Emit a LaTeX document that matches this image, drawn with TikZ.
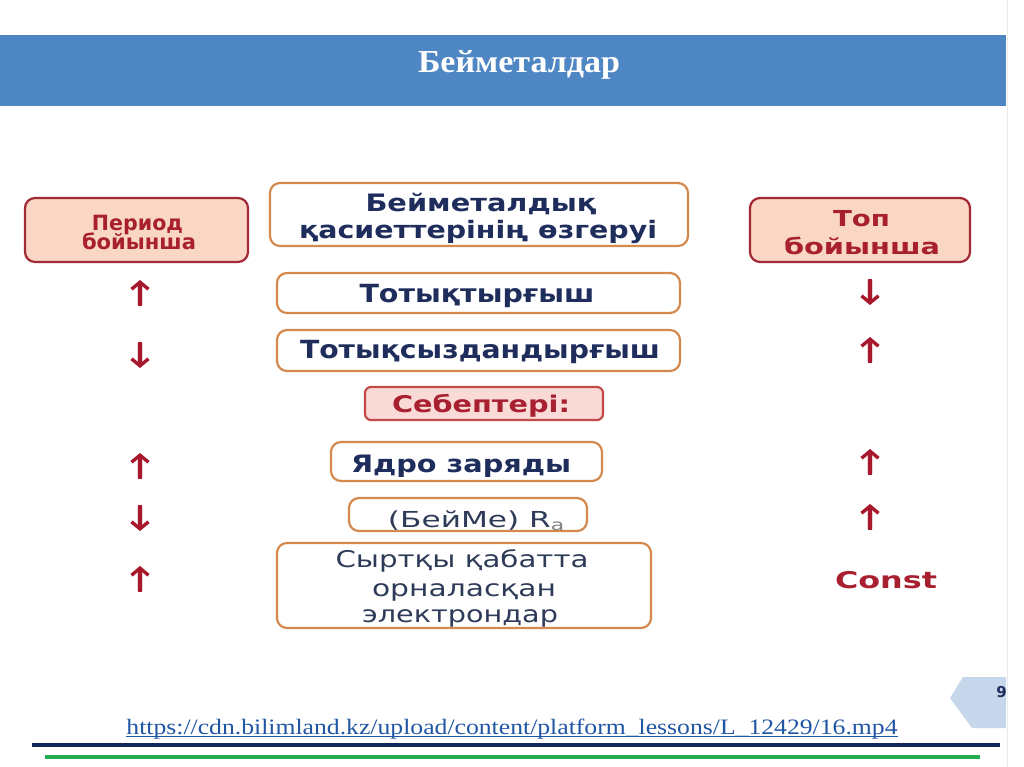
\documentclass[tikz,border=0pt]{standalone}
\usepackage{fontspec}
\setmainfont{Liberation Serif}
\newfontfamily\boxfont{DejaVu Sans}
\usepackage{graphicx}
\usetikzlibrary{arrows.meta}
\definecolor{hdr}{HTML}{4F86C4}
\definecolor{navytxt}{HTML}{1F2D5C}
\definecolor{slatetxt}{HTML}{2E3B58}
\definecolor{orng}{HTML}{D48A4E}
\definecolor{dred}{HTML}{A22A38}
\definecolor{redtxt}{HTML}{A82030}
\definecolor{peach}{HTML}{FAD6C4}
\definecolor{pinkfill}{HTML}{F9DAD6}
\definecolor{sebred}{HTML}{C44A4A}
\definecolor{arrred}{HTML}{A8182C}
\definecolor{urlblue}{HTML}{2156A5}
\definecolor{navyline}{HTML}{14275A}
\definecolor{greenline}{HTML}{25AE50}
\definecolor{tabblue}{HTML}{C6D6EB}
\newcommand\wf[2]{\resizebox{#1pt}{\height}{#2}}
\tikzset{
  pbox/.style={draw=dred, fill=peach, line width=2.2pt, rounded corners=10pt, inner sep=0pt},
  obox/.style={draw=orng, fill=white, line width=2.2pt, rounded corners=10pt, inner sep=0pt},
  sbox/.style={draw=sebred, fill=pinkfill, line width=2.2pt, rounded corners=6pt, inner sep=0pt},
  txt/.style={anchor=base, inner sep=0pt},
  navyb/.style={txt, text=navytxt, font=\boxfont\bfseries\fontsize{#1}{#1}\selectfont},
  slater/.style={txt, text=slatetxt, font=\boxfont\fontsize{#1}{#1}\selectfont},
  redb/.style={txt, text=redtxt, font=\boxfont\bfseries\fontsize{#1}{#1}\selectfont},
  arrglow/.style={draw=arrred!20, line width=6.5pt},
  arr/.style={draw=arrred, line width=3.4pt, -{Straight Barb[length=7pt,width=17pt]}},
}
\begin{document}
\begin{tikzpicture}[x=1pt,y=-1pt]
\fill[white] (0,0) rectangle (1024,767);
\useasboundingbox (0,0) rectangle (1024,767);
\draw[black!8, line width=0.8pt] (1007,0) -- (1007,767);
% header
\fill[hdr] (0,35) rectangle (1006,106);
\node[txt, text=white, font=\fontsize{32}{36}\selectfont\bfseries] (title) at (519,73) {\wf{202}{Бейметалдар}};
% boxes
\node[pbox, minimum width=223pt, minimum height=64pt] (per) at (136.5,230) {};
\node[pbox, minimum width=220pt, minimum height=64pt] (top) at (860,230) {};
\node[obox, minimum width=418pt, minimum height=63pt] (main) at (479,214.5) {};
\node[obox, minimum width=403pt, minimum height=40pt] (tot) at (478.5,293) {};
\node[obox, minimum width=403pt, minimum height=41pt] (totsyz) at (478.5,350.5) {};
\node[sbox, minimum width=238pt, minimum height=33pt] (seb) at (484,403.5) {};
\node[obox, minimum width=271pt, minimum height=39pt] (yadro) at (466.5,461.5) {};
\node[obox, minimum width=238pt, minimum height=33pt] (beime) at (468,514.5) {};
\node[obox, minimum width=374pt, minimum height=85pt] (syrt) at (464,585.5) {};
% texts
\node[redb=21] (per1) at (137.5,230) {\wf{91}{Период}};
\node[redb=21] (per2) at (139,249) {\wf{114}{бойынша}};
\node[redb=22] (top1) at (861.5,226) {\wf{57}{Топ}};
\node[redb=22] (top2) at (862,254) {\wf{156}{бойынша}};
\node[navyb=24] (main1) at (481,212) {\wf{231}{Бейметалдық}};
\node[navyb=24] (main2) at (478,238) {\wf{358}{қасиеттерінің өзгеруі}};
\node[navyb=25] (tot1) at (477,302) {\wf{235}{Тотықтырғыш}};
\node[navyb=25] (totsyz1) at (480,358) {\wf{360}{Тотықсыздандырғыш}};
\node[redb=23] (seb1) at (481,412) {\wf{178}{Себептері:}};
\node[navyb=24] (yadro1) at (461,472) {\wf{220}{Ядро заряды}};
\node[slater=22] (beime1) at (476.5,527) {\wf{177}{(БейМе) R\textsubscript{\color{black!50}a}}};
\node[slater=23] (syrt1) at (462,567) {\wf{253}{Сыртқы қабатта}};
\node[slater=23] (syrt2) at (464,596) {\wf{184}{орналасқан}};
\node[slater=23] (syrt3) at (460,622) {\wf{196}{электрондар}};
% left arrows (period)
\foreach \y/\d in {293/-1, 355/1, 466/-1, 518/1, 579/-1}{
  \draw[arrglow] (140,\y-12*\d) -- (140,\y+11*\d);
  \draw[arr] (140,\y-13*\d) -- (140,\y+13*\d);
}
% right arrows (group)
\foreach \y/\d in {292/1, 350/-1, 462/-1, 517/-1}{
  \draw[arrglow] (870,\y-12*\d) -- (870,\y+11*\d);
  \draw[arr] (870,\y-13*\d) -- (870,\y+13*\d);
}
\node[redb=23] (const) at (886,588) {\wf{102}{Const}};
% footer
\fill[tabblue] (950,698) -- (963,677) -- (1006,677) -- (1006,728) -- (972,728) -- cycle;
\node[anchor=east, inner sep=0pt, text=navytxt, font=\boxfont\bfseries\fontsize{15}{16}\selectfont] (pnum) at (1007,692) {9};
\node[txt, text=urlblue, font=\fontsize{22}{24}\selectfont] (url) at (512,734) {\wf{771}{https://cdn.bilimland.kz/upload/content/platform\_lessons/L\_12429/16.mp4}};
\draw[urlblue, line width=1.1pt] ([yshift=-2.5pt]url.base west) -- ([yshift=-2.5pt]url.base east);
\draw[navyline, line width=4pt] (32,745) -- (1000,745);
\draw[greenline, line width=4pt] (45,757) -- (980,757);
\end{tikzpicture}
\end{document}
